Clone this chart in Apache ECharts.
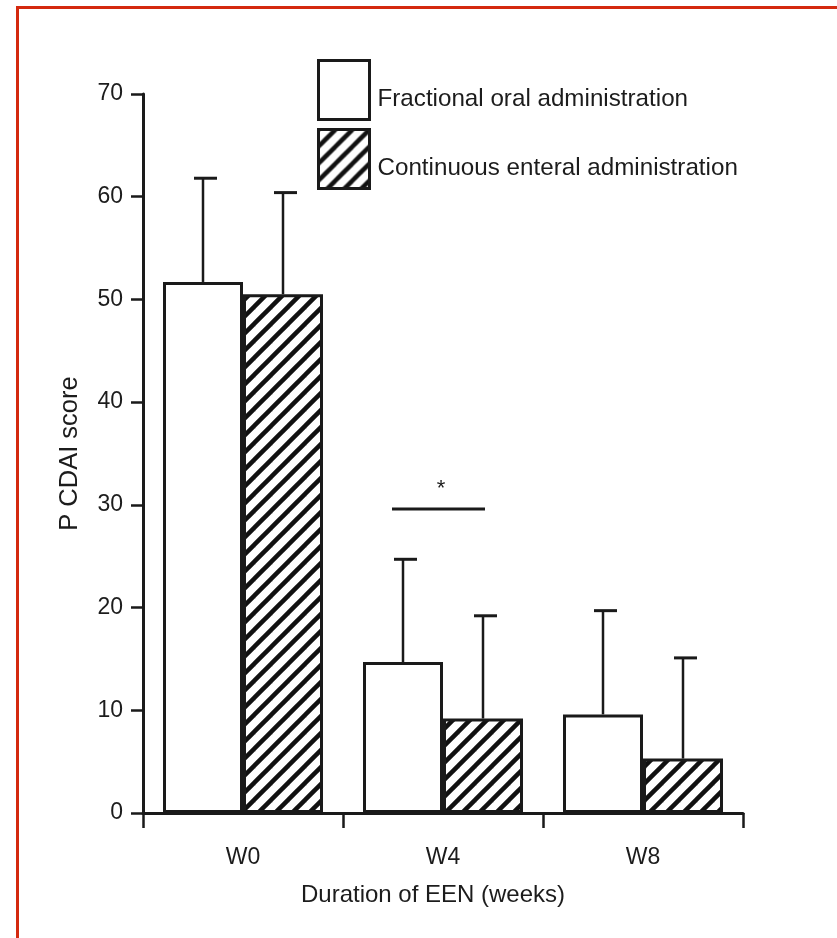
<!DOCTYPE html>
<html><head><meta charset="utf-8">
<script src="https://cdn.jsdelivr.net/npm/echarts@6/dist/echarts.min.js"></script>
<style>html,body{margin:0;padding:0;background:#fff}
#c{position:absolute;left:0;top:0;width:837px;height:938px}
#ft{position:absolute;left:16px;top:6px;width:821px;height:932px;border-top:3px solid #d4290f;border-left:3px solid #d4290f;pointer-events:none}
</style></head><body>
<div id="c"></div><div id="ft"></div>
<script>
const categories = ['W0', 'W4', 'W8'];
const seriesNames = ['Fractional oral administration', 'Continuous enteral administration'];
const fractionalMean = [51.7, 14.7, 9.6];
const fractionalSD = [10.1, 10.0, 10.1];
const continuousMean = [50.5, 9.2, 5.3];
const continuousSD = [9.9, 10.0, 9.8];
const yTicks = [0, 10, 20, 30, 40, 50, 60, 70];
const sigCategory = 1;
const sigLevel = 29.6;
const sigLabel = '*';

const FONT = '"Liberation Sans", Arial, sans-serif';
const INK = '#1a1a1a';
const TXT = '#1c1c1c';

function hatch() {
  const s = 17;
  const c = document.createElement('canvas');
  c.width = s; c.height = s;
  const g = c.getContext('2d');
  g.fillStyle = '#fff'; g.fillRect(0, 0, s, s);
  g.strokeStyle = '#111'; g.lineWidth = 4.5;
  for (const k of [-1, 0, 1]) {
    g.beginPath(); g.moveTo(k * s - s, 2 * s); g.lineTo(k * s + 2 * s, -s); g.stroke();
  }
  return c;
}
const hatchPattern = { image: hatch(), repeat: 'repeat' };

function errRender(sign) {
  return function (params, api) {
    const ci = api.value(0), m = api.value(1), e = api.value(2);
    const bw = api.size([1, 0])[0];
    const base = api.coord([ci, m]);
    const top = api.coord([ci, m + e]);
    const x = base[0] + sign * bw * 0.2;
    return { type: 'group', children: [
      { type: 'line', shape: { x1: x, y1: base[1], x2: x, y2: top[1] }, style: { stroke: INK, lineWidth: 2.5 } },
      { type: 'line', shape: { x1: x - 9, y1: top[1], x2: x + 14, y2: top[1] }, style: { stroke: INK, lineWidth: 3 } }
    ]};
  };
}

const chart = echarts.init(document.getElementById('c'), null, { renderer: 'canvas' });
chart.setOption({
  animation: false,
  backgroundColor: '#fff',
  textStyle: { fontFamily: FONT, color: TXT },
  grid: { left: 143, right: 94, top: 94, bottom: 125, containLabel: false },
  legend: {
    orient: 'vertical', left: 312, top: 54, itemWidth: 51, itemHeight: 59, itemGap: 7,
    icon: 'rect',
    data: seriesNames,
    itemStyle: { borderColor: INK, borderWidth: 3 },
    formatter: '{t|{name}}',
    textStyle: { fontSize: 24.2, color: TXT, fontFamily: FONT,
      rich: { t: { fontSize: 24.2, color: TXT, fontFamily: FONT, padding: [18, 0, 0, 3] } } }
  },
  xAxis: {
    type: 'category', data: categories, boundaryGap: true,
    name: 'Duration of EEN (weeks)', nameLocation: 'middle', nameGap: 70,
    nameTextStyle: { fontSize: 24, color: TXT, fontFamily: FONT, padding: [0, 20, 0, 0] },
    axisLine: { lineStyle: { color: INK, width: 3 } },
    axisTick: { show: true, alignWithLabel: false, length: 15, lineStyle: { color: INK, width: 2.5 } },
    axisLabel: { fontSize: 23, color: TXT, margin: 33, fontFamily: FONT }
  },
  yAxis: {
    type: 'value', min: yTicks[0], max: yTicks[yTicks.length - 1], interval: 10,
    name: 'P CDAI score', nameLocation: 'middle', nameGap: 60, nameRotate: 90,
    nameTextStyle: { fontSize: 25.5, color: TXT, fontFamily: FONT },
    axisLine: { show: true, lineStyle: { color: INK, width: 3 } },
    axisTick: { show: true, length: 12, lineStyle: { color: INK, width: 2.5 } },
    splitLine: { show: false },
    axisLabel: { fontSize: 23, color: TXT, margin: 20, fontFamily: FONT, padding: [4, 0, 0, 0] }
  },
  series: [
    { name: seriesNames[0], type: 'bar', data: fractionalMean, barWidth: '40%', barGap: '0%',
      itemStyle: { color: '#fff', borderColor: INK, borderWidth: 3 }, z: 2 },
    { name: seriesNames[1], type: 'bar', data: continuousMean, barWidth: '40%', barGap: '0%',
      itemStyle: { color: hatchPattern, borderColor: INK, borderWidth: 3 }, z: 2 },
    { type: 'custom', renderItem: errRender(-1), z: 1,
      data: fractionalMean.map((m, i) => [i, m, fractionalSD[i]]), encode: { x: 0, y: 1 } },
    { type: 'custom', renderItem: errRender(1), z: 1,
      data: continuousMean.map((m, i) => [i, m, continuousSD[i]]), encode: { x: 0, y: 1 } },
    { type: 'custom', z: 3,
      renderItem: function (params, api) {
        const p = api.coord([api.value(0), api.value(1)]);
        return { type: 'group', children: [
          { type: 'line', shape: { x1: p[0] - 51, y1: p[1], x2: p[0] + 42, y2: p[1] }, style: { stroke: INK, lineWidth: 3 } },
          { type: 'text', x: p[0] - 2, y: p[1] - 20, style: { text: sigLabel, fill: TXT, font: '22px ' + FONT, align: 'center', verticalAlign: 'middle' } }
        ]};
      },
      data: [[sigCategory, sigLevel]], encode: { x: 0, y: 1 } }
  ]
});
</script></body></html>
